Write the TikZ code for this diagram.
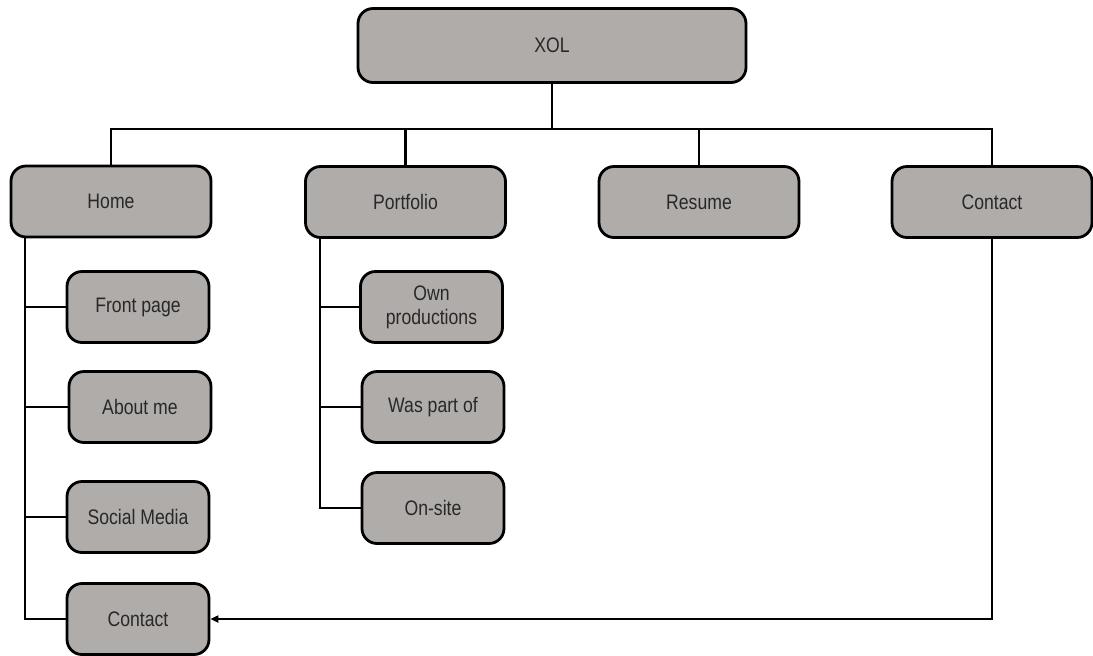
\documentclass[tikz,border=0pt]{standalone}
\usepackage{fontspec}
\setmainfont{Liberation Sans}[FakeStretch=0.84]
\usetikzlibrary{arrows.meta}

\definecolor{boxgray}{RGB}{176,172,170}
\definecolor{textgray}{RGB}{40,40,40}

\tikzset{
    box/.style={draw=black, fill=boxgray, line width=1.4pt, rounded corners=7.5pt,
        text=textgray, font=\fontsize{10.5}{12}\selectfont, align=center,
        minimum height=35.5pt, inner sep=2pt},
    topbox/.style={box, minimum width=100pt},
    subbox/.style={box, minimum width=71pt},
    wire/.style={line width=1.4pt},
}

\begin{document}
\begin{tikzpicture}[x=0.5pt, y=-0.5pt]
    \useasboundingbox (0,0) rectangle (1093,655);

    % Wurzel
    \node[box, minimum width=194pt, minimum height=37pt] (xol) at (552,45.5) {XOL};

    % obere Ebene
    \node[topbox] (home) at (111,201.5) {Home};
    \node[topbox] (portfolio) at (405.5,202) {Portfolio};
    \node[topbox] (resume) at (699,202) {Resume};
    \node[topbox] (contact) at (992,202) {Contact};

    % Unterseiten von Home
    \node[subbox] (front) at (138,307) {Front page};
    \node[subbox] (about) at (140,407) {About me};
    \node[subbox] (social) at (138,517) {Social Media};
    \node[subbox] (hcontact) at (138,619) {Contact};

    % Unterseiten von Portfolio
    \node[subbox] (own) at (431.5,307) {Own\\productions};
    \node[subbox] (partof) at (433,407) {Was part of};
    \node[subbox] (onsite) at (433,508) {On-site};

    % Hilfspunkte
    \coordinate (bus) at (552,129);
    \coordinate (hx) at (25,0);
    \coordinate (px) at (320,0);

    % Verbindungen oben
    \draw[wire] (xol.south) -- (bus);
    \draw[wire] (home.north) -- (home.north |- bus) -- (contact.north |- bus) -- (contact.north);
    \draw[wire] (portfolio.north) -- (portfolio.north |- bus);
    \draw[wire] (resume.north) -- (resume.north |- bus);

    % Verbindungen Home
    \draw[wire] (hx |- home.south) -- (hx |- hcontact) -- (hcontact.west);
    \draw[wire] (hx |- front) -- (front.west);
    \draw[wire] (hx |- about) -- (about.west);
    \draw[wire] (hx |- social) -- (social.west);

    % Verbindungen Portfolio
    \draw[wire] (px |- portfolio.south) -- (px |- onsite) -- (onsite.west);
    \draw[wire] (px |- own) -- (own.west);
    \draw[wire] (px |- partof) -- (partof.west);

    % Contact zu Contact
    \draw[wire, -{Triangle[length=4pt, width=3.5pt]}] (contact.south) |- (hcontact.east);
\end{tikzpicture}
\end{document}
